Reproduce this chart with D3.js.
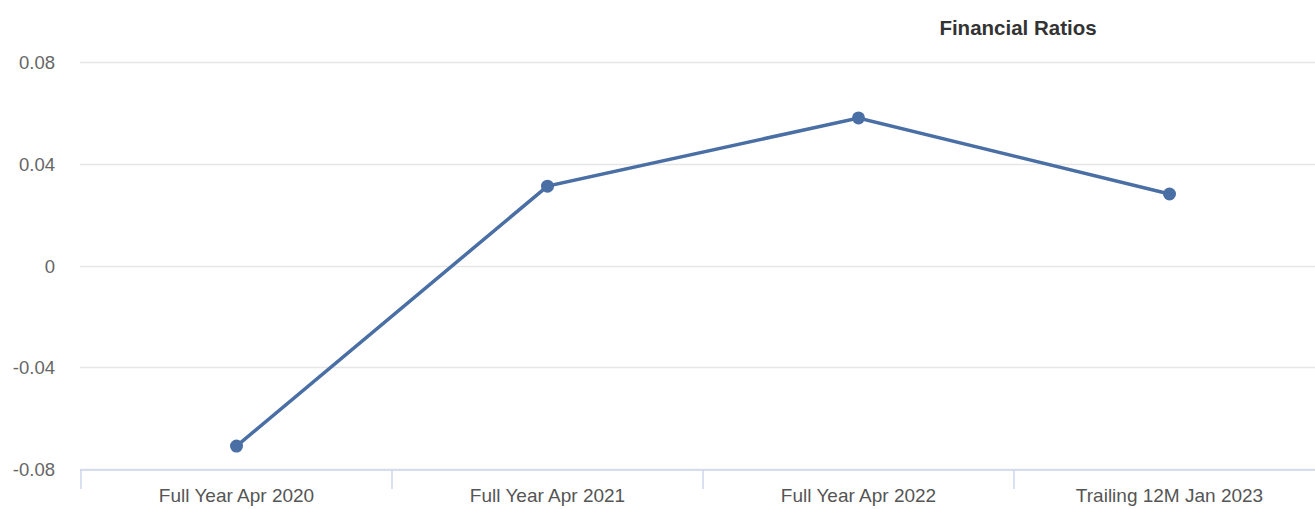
<!DOCTYPE html>
<html><head><meta charset="utf-8">
<script src="https://cdn.jsdelivr.net/npm/d3@7/dist/d3.min.js"></script>
<style>body{margin:0;background:#fff;}svg{display:block;font-family:"Liberation Sans",Arial,sans-serif;}</style>
</head><body><svg id="c" width="1315" height="509"></svg>
<script>
const categories = ["Full Year Apr 2020","Full Year Apr 2021","Full Year Apr 2022","Trailing 12M Jan 2023"];
const values = [-0.071, 0.0312, 0.058, 0.0281];
const yTicks = [-0.08, -0.04, 0, 0.04, 0.08];
const yTickLabels = ["-0.08","-0.04","0","0.04","0.08"];
const title = "Financial Ratios";

const svg = d3.select("#c");
const x = d3.scaleBand().domain(categories).range([81, 1325]);
const y = d3.scaleLinear().domain([-0.08, 0.08]).range([469, 62]);

// gridlines
svg.append("g").selectAll("line").data(yTicks).join("line")
  .attr("x1", 80).attr("x2", 1315)
  .attr("y1", d => Math.round(y(d)) + 0.5).attr("y2", d => Math.round(y(d)) + 0.5)
  .attr("stroke", "#e6e6e6").attr("stroke-width", 1.5);

// y labels
svg.append("g").selectAll("text").data(yTicks).join("text")
  .attr("x", 55).attr("y", d => y(d) + 7)
  .attr("text-anchor", "end").attr("fill", "#666").attr("font-size", 18.5)
  .text((d, i) => yTickLabels[i]);

// x axis
const xa = svg.append("g").attr("transform", "translate(0,470)")
  .call(d3.axisBottom(x).tickSize(0).tickPadding(19));
xa.select(".domain").attr("stroke", "#ccd6eb").attr("stroke-width", 1.5).attr("d", "M80,0H1315");
xa.selectAll("text").attr("fill", "#555").attr("font-size", 19).attr("font-family", "Liberation Sans, Arial, sans-serif");
// category boundary ticks
const bounds = categories.map(c => x(c));
svg.append("g").selectAll("line").data(bounds).join("line")
  .attr("x1", d => d).attr("x2", d => d).attr("y1", 470).attr("y2", 489)
  .attr("stroke", "#ccd6eb").attr("stroke-width", 1.5);

// line
const cx = c => x(c) + x.bandwidth() / 2;
const line = d3.line().x((d, i) => cx(categories[i])).y(d => y(d));
svg.append("path").datum(values).attr("d", line)
  .attr("fill", "none").attr("stroke", "#4a6fa5").attr("stroke-width", 3.5);
svg.append("g").selectAll("circle").data(values).join("circle")
  .attr("cx", (d, i) => cx(categories[i])).attr("cy", d => y(d)).attr("r", 6.5)
  .attr("fill", "#4a6fa5");

// title
svg.append("text").attr("x", 1018).attr("y", 35).attr("text-anchor", "middle")
  .attr("fill", "#333").attr("font-size", 20.5)
  .style("font-family", "Liberation Sans, Arial, sans-serif").style("font-weight", "bold")
  .text(title);
</script></body></html>
